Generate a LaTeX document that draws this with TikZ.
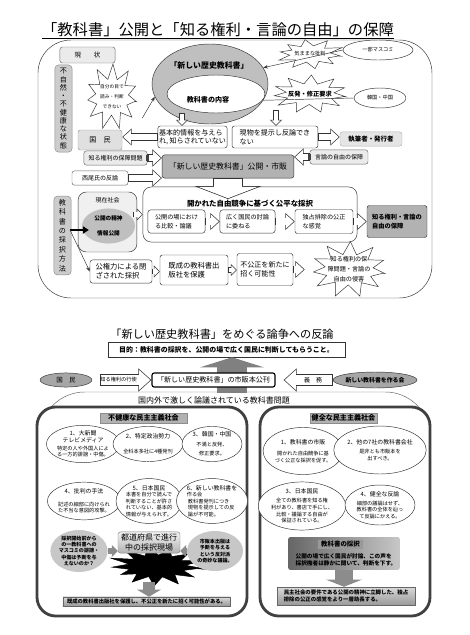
\documentclass[tikz,border=0pt]{standalone}
\usepackage{fontspec}
\setmainfont{Noto Sans CJK JP}
\usetikzlibrary{arrows.meta,positioning,calc,shapes.geometric}
\newcommand\hd[1]{{\fontsize{5}{6}\selectfont #1}}
% spiky outline: [style]{cx}{cy}{rx}{ry}{points}
\newcommand\spiky[6][]{%
  \pgfmathtruncatemacro\spkn{2*#6}%
  \pgfmathtruncatemacro\spks{2*#6+1}%
  \draw[draw=black!80,fill=white,line join=miter,#1]
    plot[samples=\spks,domain=0:\spkn,variable=\k]
    ({#2+#4*(0.55+0.45*(0.5+0.5*abs(sin(\k*73)))*(1+cos(\k*180))/2)*cos(\k*180/#6+10)},
     {#3+#5*(0.55+0.45*(0.5+0.5*abs(sin(\k*73)))*(1+cos(\k*180))/2)*sin(\k*180/#6+10)}) -- cycle;}

\begin{document}
\begin{tikzpicture}[x=0.85pt,y=-0.85pt,
    fa/.style={font=\fontsize{4.4}{5.6}\selectfont},
    fb/.style={font=\fontsize{5.1}{6.2}\selectfont},
    fc/.style={font=\fontsize{6}{7.2}\selectfont},
    box/.style={draw=black!80,fill=white,rounded corners=2pt,inner sep=1pt,align=left,fc},
    gbox/.style={box,fill=black!30,align=center},
    tag/.style={draw=black!60,fill=black!8,rounded corners=2pt,inner sep=1pt,align=center,fb},
    vlab/.style={draw=black!45,fill=black!20,rounded corners=3pt,inner sep=0pt,
      minimum width=14.5pt,align=center,font=\fontsize{6}{7}\selectfont},
    oval/.style={ellipse,draw=black!80,fill=white,inner sep=0pt,align=center,fa},
    burstlbl/.style={inner sep=0pt,align=center,fa},
    panel/.style={draw=black!75,line width=2.4pt,fill=white,rounded corners=16pt},
    head/.style={fill=black!30,draw=black!45,inner sep=0.5pt,
      font=\bfseries\fontsize{6}{6}\selectfont},
    result/.style={draw=black!60,top color=black!15,bottom color=black!40,inner sep=0.5pt,
      font=\bfseries\fontsize{4.5}{6}\selectfont},
    link/.style={-{Stealth[length=4pt,width=3pt]},thin,draw=black!80},
    tinyhollow/.style={draw=white,line width=4pt,shorten >=0.8pt,shorten <=0.6pt,
      -{Triangle[length=3.7pt,width=7.4pt]},
      preaction={draw=black!80,line width=5pt,shorten >=0pt,shorten <=0pt,
        -{Triangle[length=5pt,width=10pt]}}},
    hollow/.style={draw=white,line width=5.3pt,shorten >=0.9pt,shorten <=0.6pt,
      -{Triangle[length=6.5pt,width=11.4pt]},
      preaction={draw=black!80,line width=6.5pt,shorten >=0pt,shorten <=0pt,
        -{Triangle[length=8pt,width=14pt]}}},
    midhollow/.style={draw=white,line width=8.8pt,shorten >=0.9pt,shorten <=0.6pt,
      -{Triangle[length=9.5pt,width=16.4pt]},
      preaction={draw=black!80,line width=10pt,shorten >=0pt,shorten <=0pt,
        -{Triangle[length=11pt,width=19pt]}}},
    bighollow/.style={draw=white,line width=24pt,shorten >=0.65pt,shorten <=0.5pt,
      -{Triangle[length=9.75pt,width=50.5pt]},
      preaction={draw=black!80,line width=25pt,shorten >=0pt,shorten <=0pt,
        -{Triangle[length=11pt,width=57pt]}}},
    grayup/.style={draw=black!50,line width=25.5pt,-{Triangle[length=8.5pt,width=53.6pt]}},
    grayside/.style={draw=black!45,line width=5pt,-{Triangle[length=5pt,width=10pt]}},
    graydown/.style={draw=black!45,line width=#1,-{Triangle[length=6pt,width=2*#1]}},
  ]
  \useasboundingbox (0,0) rectangle (470,635);

  % ---- upper chart
  \node[font=\fontsize{13}{14}\selectfont] (title1) at (218,31)
    {\underline{「教科書」公開と「知る権利・言論の自由」の保障}};
  \draw[draw=black!80,rounded corners=28pt] (38,40) rectangle (432,298);

  \node[tag,minimum width=46.8pt,minimum height=13.6pt,font=\fontsize{5.5}{6}\selectfont]
    (now) at (87.5,55) {現\qquad 状};
  \node[vlab,minimum height=74pt] (unnat) at (63.5,108.5)
    {不\\自\\然\\・\\不\\健\\康\\な\\状\\態};
  \node[vlab,minimum height=67pt,font=\fontsize{6}{8}\selectfont] (method) at (62.5,235.5)
    {教\\科\\書\\の\\採\\択\\方\\法};

  \node[ellipse,draw=black!80,fill=black!25,minimum width=98.6pt,minimum height=68pt] (book) at (210,84) {};
  \node[ellipse,draw=black!80,fill=white,minimum width=83.3pt,minimum height=32.3pt] (content) at (216,94) {};
  \node[font=\bfseries\fontsize{6.7}{7}\selectfont] (booklbl) at (209,66) {「新しい歴史教科書」};
  \node[font=\bfseries\fontsize{6}{7}\selectfont] (contentlbl) at (208,100) {教科書の内容};

  \spiky{112}{97}{30}{33}{11}
  \node[burstlbl,minimum width=51pt,minimum height=56pt,font=\fontsize{4}{8.5}\selectfont]
    (selfeye) at (112,97) {自分の目で\\読み・判断\\できない};
  \spiky{310}{54}{37}{15}{10}
  \node[burstlbl,minimum width=63pt,minimum height=25.5pt] (critic) at (310,54) {気ままな批判};
  \node[oval,minimum width=59.5pt,minimum height=17pt] (media) at (378,50) {一部マスコミ};
  \spiky{310}{94}{44}{19}{11}
  \node[burstlbl,minimum width=75pt,minimum height=32pt,font=\bfseries\fontsize{5.3}{6}\selectfont]
    (protest) at (310,94) {反発・修正要求};
  \node[oval,minimum width=44pt,minimum height=17pt] (asia) at (380,98) {韓国・中国};

  \draw[link] (media.west) -- (book.17);
  \draw[thin,draw=black!80] (asia.west) -- (book.-17);
  \draw[link] (selfeye.-35) -- (book.193);

  \node[box,minimum width=58.7pt,minimum height=18.7pt] (basic) at (192.5,137)
    {基本的情報を与えら\\れ, 知らされていない};
  \node[box,minimum width=73pt,minimum height=18.7pt] (real) at (275,137)
    {現物を提示し反論でき\\ない};
  \coordinate (d1) at (182,113);
  \coordinate (d2) at (276,110);
  \draw[tinyhollow] (d1) -- (d1 |- basic.north);
  \draw[tinyhollow] (d2) -- (d2 |- real.north);

  \node[box,fill=black!12,draw=black!40,minimum width=37.4pt,minimum height=17pt,
    align=center] (people) at (100,140) {国\quad 民};
  \node[box,fill=black!10,draw=black!30,minimum width=52.7pt,minimum height=12pt,align=center,
    font=\bfseries\fontsize{5.5}{6}\selectfont] (author) at (371,139) {執筆者・発行者};
  \draw[hollow] (basic.west) -- (basic.west -| people.east);
  \draw[hollow] (real.east) -- (real.east -| author.west);

  \node[tag,minimum width=53.6pt,minimum height=12pt] (rightq) at (115.5,158) {知る権利の保障問題};
  \node[gbox,minimum width=112pt,minimum height=19.6pt,font=\fontsize{6.7}{7}\selectfont]
    (publish) at (228,166.5) {「新しい歴史教科書」公開・市販};
  \node[tag,minimum width=49.3pt,minimum height=12pt] (speech) at (339,157) {言論の自由の保障};
  \node[tag,fill=white,minimum width=47.6pt,minimum height=12pt] (nishio) at (100,178) {西尾氏の反論};
  \draw[hollow] (rightq.east) -- (rightq.east -| publish.west);
  \draw[hollow] (speech.west) -- (speech.west -| publish.east);
  \draw[hollow] (nishio.east) -- (nishio.east -| publish.west);
  \node[fill=black!75,inner sep=0pt,minimum width=2.5pt,minimum height=5pt] (rightqend) at (rightq.east) {};
  \node[fill=black!75,inner sep=0pt,minimum width=2.5pt,minimum height=5pt] (speechend) at (speech.west) {};

  \node[box,rounded corners=7pt,minimum width=182pt,minimum height=46.8pt] (open) at (250,214.5) {};
  \node[font=\bfseries\fontsize{6.3}{7}\selectfont] (openlbl) at (250,204) {開かれた自由競争に基づく公平な採択};
  \coordinate (downtip) at (228,199);
  \draw[bighollow] (publish.south) -- (downtip);

  \node[box,fill=black!6,rounded corners=7pt,minimum width=50pt,minimum height=51pt] (society) at (107.5,222) {};
  \node[fb] (societylbl) at (107.5,200) {現在社会};
  \node[ellipse,fill=black!25,inner sep=0pt,minimum width=45pt,minimum height=29.8pt,align=center,
    font=\bfseries\fontsize{4.8}{5}\selectfont] (spirit) at (108.5,226) {公開の精神\\[8pt]情報公開};

  \node[box,minimum width=48.5pt,minimum height=19.6pt,font=\fontsize{5.2}{8}\selectfont]
    (compare) at (176.5,221.5) {公開の場におけ\\る比較・論議};
  \node[box,minimum width=46.8pt,minimum height=19.6pt,font=\fontsize{5.2}{8}\selectfont]
    (debate) at (247.5,221.5) {広く国民の討論\\に委ねる};
  \node[box,minimum width=49.3pt,minimum height=20.4pt,font=\fontsize{5.2}{8}\selectfont]
    (fair) at (324,221.5) {独占排除の公正\\な感覚};
  \node[gbox,minimum width=51pt,minimum height=27.2pt,align=left,
    font=\bfseries\fontsize{5.3}{8}\selectfont] (guarantee) at (397,221.5) {知る権利・言論の\\自由の保障};
  \draw[tinyhollow] ([xshift=-3.4pt]society.east |- open.west) -- (open.west);
  \draw[hollow] (compare.east) -- (debate.west);
  \draw[hollow] (debate.east) -- (fair.west);
  \draw[hollow] (fair.east) -- (guarantee.west);

  \node[box,minimum width=52.7pt,minimum height=19.6pt,font=\fontsize{6.2}{8}\selectfont]
    (closed) at (121,271.5) {公権力による閉\\ざされた採択};
  \node[box,minimum width=57.8pt,minimum height=25.5pt,font=\fontsize{6.2}{8}\selectfont]
    (protect) at (194,270) {既成の教科書出\\版社を保護};
  \node[box,minimum width=47.6pt,minimum height=27.2pt,font=\fontsize{6}{8}\selectfont]
    (unfair) at (265,269.5) {不公正を新たに\\招く可能性};
  \spiky{349}{269.5}{44}{28}{11}
  \node[burstlbl,minimum width=74.8pt,minimum height=47.6pt,font=\fontsize{5.2}{8.5}\selectfont]
    (violation) at (349,269.5) {知る権利の保\\障問題・言論の\\自由の侵害};
  \draw[tinyhollow] (closed.east) -- (closed.east -| protect.west);
  \draw[tinyhollow] (protect.east) -- (protect.east -| unfair.west);
  \draw[hollow] (unfair.east) -- (unfair.east -| violation.west);

  \coordinate (mth) at (70,230);
  \draw[line width=1.6pt,-{Triangle[length=5pt,width=6pt]},shorten >=-6pt] (mth) -- (mth -| spirit.west);
  \draw[link] (mth) -- (closed.west);

  % ---- lower chart
  \node[font=\fontsize{9.5}{10}\selectfont] (title2) at (222,334) {「新しい歴史教科書」をめぐる論争への反論};
  \node[box,rounded corners=0pt,align=center,minimum width=201.5pt,minimum height=12.8pt,
    font=\bfseries\fontsize{5.9}{6}\selectfont] (goal) at (226.5,349.5)
    {目的：教科書の採択を、公開の場で広く国民に判断してもらうこと。};

  \draw[draw=black!60,rounded corners=38pt] (40,470) -- (40,392) -- (430,392) -- (430,470);
  \coordinate (upfoot) at (232,393);
  \draw[grayup] (upfoot) -- (upfoot |- goal.south);

  \node[box,line width=1pt,draw=black,align=center,minimum width=104.6pt,minimum height=12pt,
    font=\fontsize{6}{6}\selectfont] (shihan) at (213.5,380) {「新しい歴史教科書」の市販本公刊};
  \node[oval,fill=black!35,minimum width=44pt,minimum height=12pt,font=\fontsize{5.5}{6}\selectfont]
    (nation) at (66,380) {国\quad 民};
  \node[oval,fill=black!35,minimum width=71.4pt,minimum height=13.6pt,
    font=\bfseries\fontsize{5}{6}\selectfont] (makers) at (375,380) {新しい教科書を作る会};
  \draw[midhollow] ([xshift=6.8pt]nation.east) -- node[pos=0.36,fa]{知る権利の行使} (shihan.west);
  \draw[midhollow] (makers.west) -- node[pos=0.4,fb]{義\quad 務} ([xshift=6.8pt]shihan.east);

  \node[font=\fontsize{6.8}{7}\selectfont] (issue) at (214,400) {国内外で激しく論議されている教科書問題};

  \node[panel,minimum width=178.5pt,minimum height=177.7pt] (sick) at (142,511.5) {};
  \node[panel,minimum width=144.5pt,minimum height=177.7pt] (healthy) at (345,511.5) {};
  \node[head,minimum width=74pt,minimum height=8.5pt] (sickhead) at (143.5,418) {不健康な民主主義社会};
  \node[head,minimum width=57pt,minimum height=8.5pt] (healthyhead) at (343.5,418) {健全な民主主義社会};

  % unhealthy side
  \node[oval,minimum width=51pt,minimum height=29.8pt] (l1) at (83,444)
    {\hd{1、大新聞}\\\hd{テレビメディア}\\[1pt]特定の人や外国人によ\\る一方的誹謗・中傷。};
  \node[oval,minimum width=51pt,minimum height=29.8pt] (l2) at (148,444)
    {\hd{2、特定政治勢力}\\[7pt]全科本多社に4種発刊};
  \node[oval,minimum width=51pt,minimum height=29.8pt] (l3) at (212,444)
    {\hd{3、韓国・中国}\\[3pt]不満と反発、\\[2pt]修正要求。};
  \node[oval,minimum width=52.7pt,minimum height=32pt] (l4) at (84,501)
    {\hd{4、批判の手法}\\[5pt]記述の細部に向けられ\\た不当な意図的攻撃。};
  \node[oval,minimum width=49.3pt,minimum height=32pt] (l5) at (149,501)
    {\hd{5、日本国民}\\本書を自分で読んで\\判断することが許さ\\れていない、基本的\\情報が与えられず。};
  \node[oval,minimum width=52.7pt,minimum height=32pt,align=left] (l6) at (212,501)
    {\hd{6、新しい教科書を}\\作る会\\\ 教科書発刊につき\\\ 現物を提示しての反\\\ 論が不可能。};

  \spiky[fill=black,draw=black]{157}{566}{52}{20}{13}
  \node[burstlbl,minimum width=88.4pt,minimum height=34pt] (scene) at (157,566) {};
  \node[draw=black!50,top color=black!5,bottom color=black!30,rounded corners=2pt,inner sep=0.5pt,
    align=center,minimum width=52.7pt,minimum height=17.9pt,font=\fontsize{6.8}{8}\selectfont]
    (field) at (149,542.5) {都道府県で進行\\中の採択現場};
  \node[ellipse,fill=black!22,inner sep=0pt,align=center,minimum width=44pt,minimum height=32pt,
    font=\bfseries\fontsize{4.3}{5.3}\selectfont] (q1) at (79,551)
    {採択開始前から\\の一教科書への\\マスコミの誹謗・\\中傷は予断を与\\えないのか？};
  \node[ellipse,fill=black!22,inner sep=0pt,align=center,minimum width=47.6pt,minimum height=34pt,
    font=\bfseries\fontsize{4.3}{5.3}\selectfont] (q2) at (215,551)
    {市販本出版は\\予断を与える\\という反対派\\の奇妙な議論。};
  \draw[grayside] (q1.east) -- (q1.east -| field.west);
  \draw[grayside] (q2.west) -- (q2.west -| field.east);
  \node[result,minimum width=142pt,minimum height=7.7pt] (result1) at (146.5,601.5)
    {既成の教科書出版社を保護し、不公正を新たに招く可能性がある。};
  \draw[graydown=10pt] ([yshift=4pt]field.south |- scene.south) -- (field.south |- result1.north);

  % healthy side
  \node[oval,minimum width=65.5pt,minimum height=40pt] (r1) at (303,451)
    {\hd{1、教科書の市販}\\[4pt]開かれた自由競争に基\\づく公正な採択を促す。};
  \node[oval,minimum width=59.5pt,minimum height=40.8pt] (r2) at (380,450)
    {\hd{2、他の7社の教科書会社}\\[2pt]是非とも市販本を\\出すべき。};
  \node[oval,minimum width=65.5pt,minimum height=35.7pt] (r3) at (302,506)
    {\hd{3、日本国民}\\[2pt]全ての教科書を知る権\\利があり、書店で手にし、\\比較・議論する自由が\\保証されている。};
  \node[oval,minimum width=59.5pt,minimum height=34pt] (r4) at (380,505)
    {\hd{4、健全な反論}\\[2pt]細部の議論はせず、\\教科書の全体を辿っ\\て反論にかえる。};

  \node[left color=black!60,right color=black!22,rounded corners=2pt,minimum width=95pt,minimum height=28pt]
    (adopt) at (344,553.5) {};
  \node[fill=black!40,inner sep=0.5pt,minimum width=38pt,minimum height=7.7pt,
    font=\bfseries\fontsize{5.5}{6}\selectfont] (adopthead) at (340.5,544.5) {教科書の採択};
  \node[align=left,inner sep=0pt,font=\bfseries\fontsize{4.8}{6.2}\selectfont] (adopttxt) at (346,560)
    {公開の場で広く国民が討論、この声を\\採択権者は静かに聞いて、判断を下す。};
  \node[result,align=left,minimum width=117pt,minimum height=15.3pt,font=\bfseries\fontsize{4.6}{6}\selectfont]
    (result2) at (346,596) {民主社会の要件である公開の精神に立脚した、独占\\排除の公正の感覚をより一層助長する。};
  \draw[graydown=15pt] (adopt.south) -- (adopt.south |- result2.north);
\end{tikzpicture}
\end{document}
